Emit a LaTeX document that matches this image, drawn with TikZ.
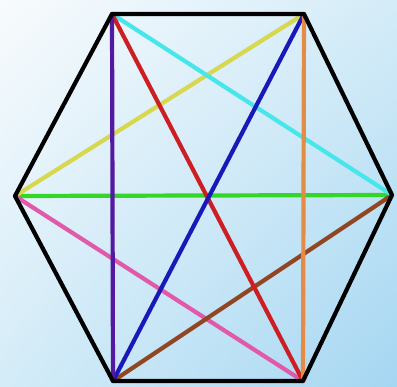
\documentclass[tikz,border=0pt]{standalone}
\usetikzlibrary{shadings}
\begin{document}
\begin{tikzpicture}[x=1pt,y=-1pt,
  edge/.style={line width=4.2pt,line cap=round,line join=round},
  v/.style={coordinate}]
\definecolor{cpurple}{RGB}{85,25,160}
\definecolor{corange}{RGB}{228,140,70}
\definecolor{ccyan}{RGB}{70,230,235}
\definecolor{cyellow}{RGB}{215,215,80}
\definecolor{cgreen}{RGB}{50,215,40}
\definecolor{cred}{RGB}{205,30,35}
\definecolor{cblue}{RGB}{25,25,185}
\definecolor{cpink}{RGB}{225,90,170}
\definecolor{cbrown}{RGB}{145,70,35}
\definecolor{bgA}{RGB}{248,251,253}
\definecolor{bgB}{RGB}{212,236,248}
\definecolor{bgC}{RGB}{165,214,242}
\shade[upper left=bgA,upper right=bgB,lower left=bgB,lower right=bgC] (0,0) rectangle (397,387);
\useasboundingbox (0,0) rectangle (397,387);
\node[v] (TL) at (112,14) {};
\node[v] (TR) at (304,14) {};
\node[v] (L) at (15,196) {};
\node[v] (R) at (392,195) {};
\node[v] (BL) at (113,381) {};
\node[v] (BR) at (303,381) {};
\draw[edge,cgreen] (L) -- (R);
\draw[edge,cyellow] (L) -- (TR);
\draw[edge,cpink] (L) -- (BR);
\draw[edge,cbrown] (R) -- (BL);
\draw[edge,ccyan] (TL) -- (R);
\draw[edge,cred] (TL) -- (BR);
\draw[edge,cblue] (TR) -- (BL);
\draw[edge,corange] (TR) -- (BR);
\draw[edge,cpurple] (TL) -- (BL);
\draw[edge,black] (TL) -- (TR) -- (R) -- (BR) -- (BL) -- (L) -- cycle;
\end{tikzpicture}
\end{document}
